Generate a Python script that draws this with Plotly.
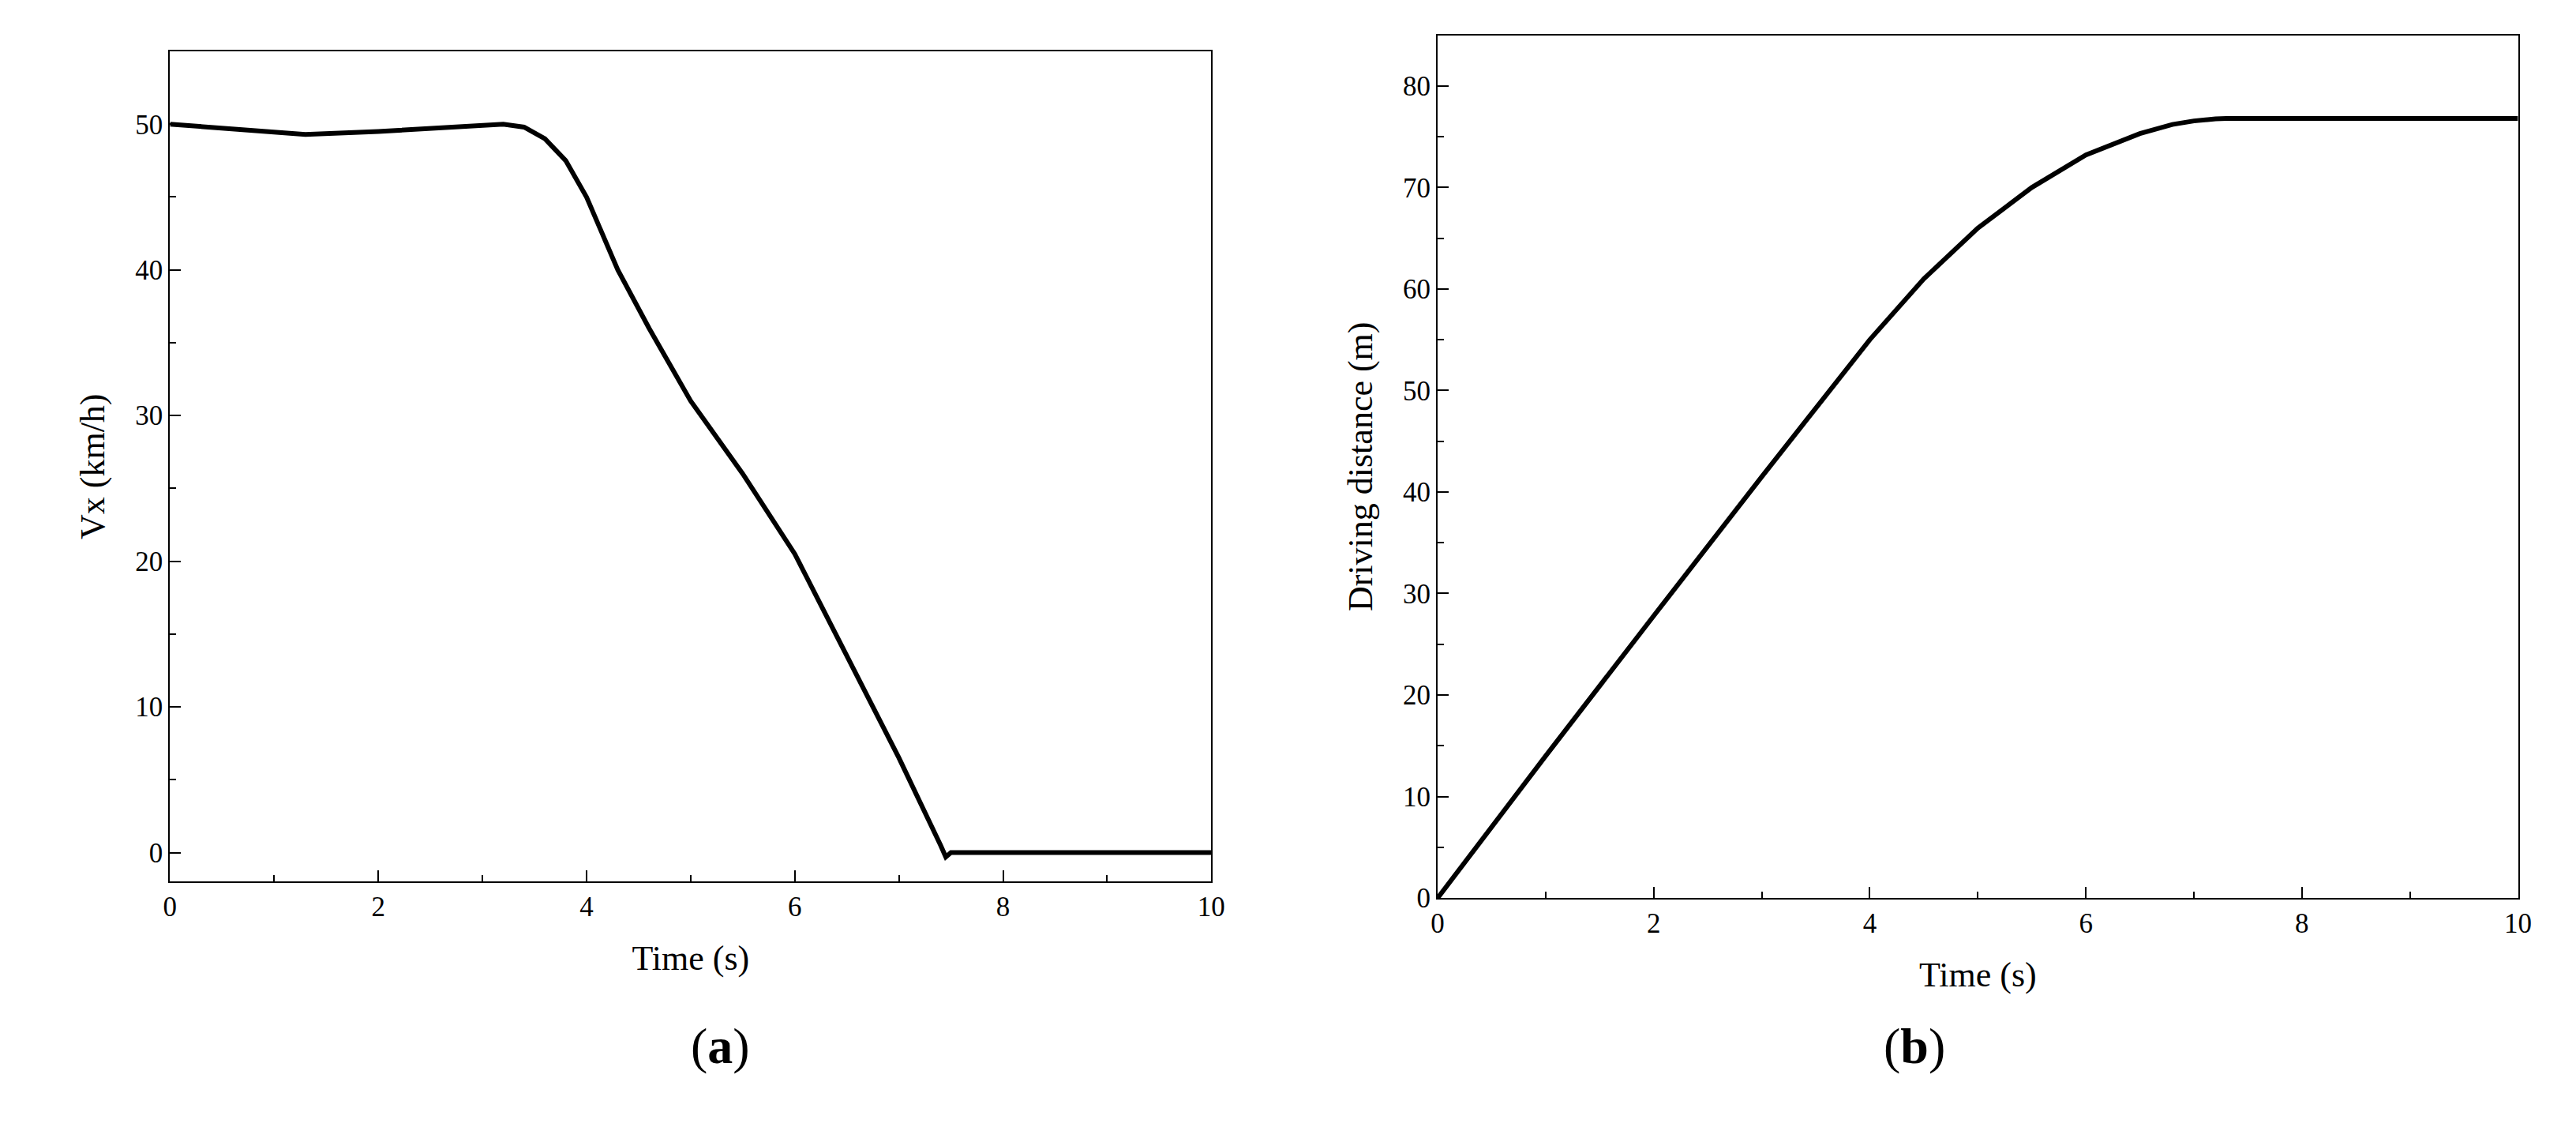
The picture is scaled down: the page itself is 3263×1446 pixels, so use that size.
import plotly.graph_objects as go

t_a = [0, 0.5, 1.0, 1.3, 2.0, 2.5, 3.0, 3.2, 3.4, 3.6, 3.8, 4.0, 4.3, 4.6, 5.0, 5.5, 6.0, 6.5, 7.0, 7.4, 7.45, 7.5, 8.0, 10.0]
vx = [50, 49.7, 49.4, 49.3, 49.5, 49.7, 49.95, 50.0, 49.8, 49.0, 47.5, 45, 40, 36, 31, 26, 20.5, 13.5, 6.5, 0.5, -0.3, 0, 0, 0]
t_b = [0, 1, 2, 3, 4, 4.5, 5, 5.5, 6, 6.5, 6.8, 7.0, 7.2, 7.3, 10]
dist = [0, 14, 27.8, 41.5, 55, 61, 66, 70, 73.2, 75.3, 76.2, 76.55, 76.75, 76.8, 76.8]

F = "Liberation Serif"
fig = go.Figure()
fig.add_trace(go.Scatter(x=t_a, y=vx, mode="lines", line=dict(color="black", width=6), xaxis="x", yaxis="y"))
fig.add_trace(go.Scatter(x=t_b, y=dist, mode="lines", line=dict(color="black", width=6), xaxis="x2", yaxis="y2"))

def ax(mdt, **kw):
    d = dict(showline=True, linecolor="black", linewidth=2, mirror=True, ticks="inside", ticklen=14,
             tickwidth=2, tickcolor="black", showgrid=False, zeroline=False,
             tickfont=dict(family=F, size=35, color="black"),
             minor=dict(ticks="inside", ticklen=8, tickwidth=2, tickcolor="black", showgrid=False, dtick=mdt))
    d.update(kw)
    return d

tf = dict(family=F, size=44, color="black")
fig.update_layout(
    width=3263, height=1446, margin=dict(l=0, r=0, t=0, b=0),
    plot_bgcolor="white", paper_bgcolor="white", showlegend=False,
    xaxis=ax(1, domain=[0.0613, 0.4689], range=[0, 10], dtick=2, anchor="y",
             title=dict(text="Time (s)", font=tf, standoff=30)),
    yaxis=ax(5, domain=[0.2227, 0.960], range=[-2, 55], dtick=10, anchor="x",
             title=dict(text="Vx (km/h)", font=tf, standoff=25)),
    xaxis2=ax(1, domain=[0.5575, 0.9804], range=[0, 10], dtick=2, anchor="y2",
              title=dict(text="Time (s)", font=tf, standoff=30)),
    yaxis2=ax(5, domain=[0.2082, 0.9744], range=[0, 85], dtick=10, anchor="x2",
              title=dict(text="Driving distance (m)", font=tf, standoff=25)),
    annotations=[
        dict(text="(<b>a</b>)", x=863/3263, y=1-1373/1446, xref="paper", yref="paper", showarrow=False,
             font=dict(family=F, size=64, color="black")),
        dict(text="(<b>b</b>)", x=2469/3263, y=1-1373/1446, xref="paper", yref="paper", showarrow=False,
             font=dict(family=F, size=64, color="black")),
    ],
)
fig.write_html("out.html")
